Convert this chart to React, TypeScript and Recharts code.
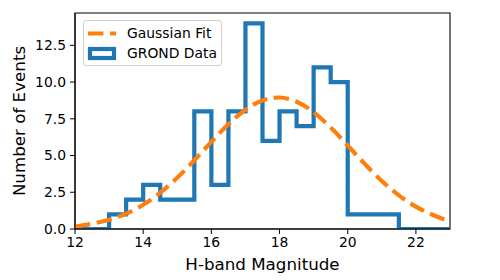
import React from "react";
import { ComposedChart, Line, XAxis, YAxis, ReferenceArea, Label } from "recharts";

// bin edges (H-band magnitude), 0.5 mag bins
const binEdges = [12, 12.5, 13, 13.5, 14, 14.5, 15, 15.5, 16, 16.5, 17, 17.5, 18, 18.5, 19, 19.5, 20, 20.5, 21, 21.5, 22, 22.5, 23];
// events per bin (value at left edge; last one closes the step)
const counts = [0, 0, 1, 2, 3, 2, 2, 8, 3, 8, 14, 6, 8, 7, 11, 10, 1, 1, 1, 0, 0, 0, 0];
// fitted curve at the same x positions
const gaussFit = [0.17, 0.36, 0.63, 1.05, 1.65, 2.47, 3.49, 4.68, 5.93, 7.13, 8.12, 8.75, 8.95, 8.66, 7.95, 6.9, 5.68, 4.43, 3.27, 2.29, 1.52, 0.95, 0.52];

const xTicks = [12, 14, 16, 18, 20, 22];
const yTicks = [0, 2.5, 5, 7.5, 10, 12.5];

const BLUE = "#1f77b4";
const ORANGE = "#ff7f0e";
const FONT = "DejaVu Sans, sans-serif";

const data = binEdges.map((x, i) => ({ x, count: counts[i], fit: gaussFit[i] }));

// legend drawn as an overlay so it does not eat into the plot area
function LegendBox() {
  return (
    <div
      style={{
        position: "absolute",
        left: 83,
        top: 20,
        width: 137,
        height: 44,
        border: "1px solid #d0d0d0",
        borderRadius: 3,
        background: "rgba(255,255,255,0.8)",
        fontFamily: FONT,
        fontSize: 13.9,
        color: "#000",
      }}
    >
      <svg width={40} height={44} style={{ position: "absolute", left: 0, top: 0 }}>
        <line x1={4} y1={12.5} x2={32} y2={12.5} stroke={ORANGE} strokeWidth={4.2} strokeDasharray="15.4 6.7" />
        <rect x={6} y={28} width={24} height={9} fill="none" stroke={BLUE} strokeWidth={4.2} />
      </svg>
      <div style={{ position: "absolute", left: 43, top: 4, whiteSpace: "nowrap" }}>Gaussian Fit</div>
      <div style={{ position: "absolute", left: 43, top: 24, whiteSpace: "nowrap" }}>GROND Data</div>
    </div>
  );
}

export default function App() {
  return (
    <div style={{ position: "absolute", left: 0, top: 0, width: 500, height: 280, background: "#fff" }}>
      <ComposedChart
        width={500}
        height={280}
        data={data}
        margin={{ top: 13, right: 50, left: 0, bottom: 0 }}
      >
        <XAxis
          dataKey="x"
          type="number"
          domain={[12, 23]}
          ticks={xTicks}
          allowDataOverflow
          height={51}
          stroke="#000"
          tickSize={5}
          tickMargin={3}
          tick={{ fill: "#000", fontSize: 13.9, fontFamily: FONT }}
        >
          <Label
            value="H-band Magnitude"
            position="insideBottom"
            offset={10}
            style={{ fill: "#000", fontSize: 16.7, fontFamily: FONT }}
          />
        </XAxis>
        <YAxis
          type="number"
          domain={[0, 14.7]}
          ticks={yTicks}
          allowDataOverflow
          width={75}
          stroke="#000"
          tickSize={5}
          tickMargin={4}
          tickFormatter={(v: number) => v.toFixed(1)}
          tick={{ fill: "#000", fontSize: 13.9, fontFamily: FONT }}
        >
          <Label
            content={() => (
              <text
                x={25}
                y={121}
                transform="rotate(-90 25 121)"
                textAnchor="middle"
                style={{ fill: "#000", fontSize: 16.7, fontFamily: FONT }}
              >
                Number of Events
              </text>
            )}
          />
        </YAxis>
        <Line
          dataKey="count"
          type="stepAfter"
          stroke={BLUE}
          strokeWidth={4.2}
          dot={false}
          isAnimationActive={false}
        />
        <Line
          dataKey="fit"
          type="monotone"
          stroke={ORANGE}
          strokeWidth={4.2}
          strokeDasharray="15.4 6.7"
          dot={false}
          isAnimationActive={false}
        />
        <ReferenceArea x1={12} x2={23} y1={0} y2={14.7} fill="none" fillOpacity={0} stroke="#000" strokeWidth={1.1} />
      </ComposedChart>
      <LegendBox />
    </div>
  );
}
